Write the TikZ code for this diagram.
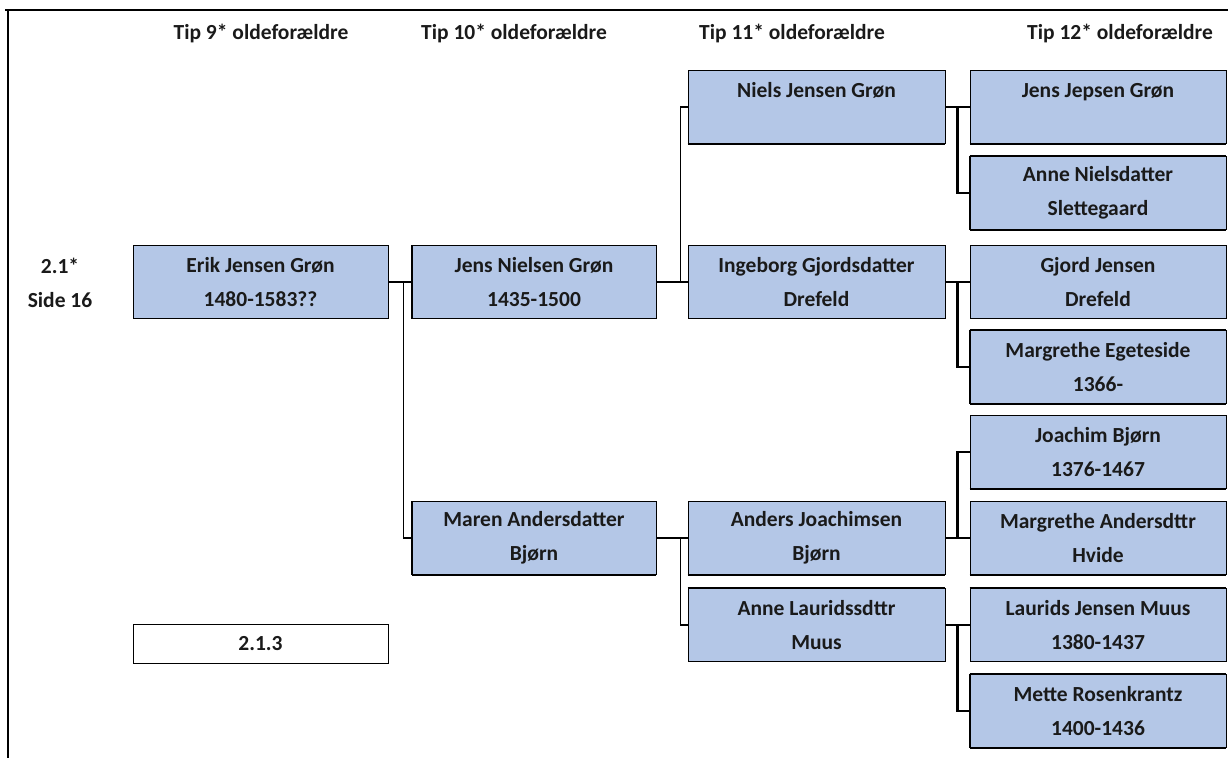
\documentclass[tikz,border=0pt]{standalone}
\usepackage{fontspec}
\setmainfont{Carlito}
\usetikzlibrary{calc}
\definecolor{cfill}{HTML}{B4C7E7}
\definecolor{ctext}{HTML}{1A1A1A}
\tikzset{
  every picture/.style={font=\bfseries\fontsize{21.5}{34}\selectfont, text=ctext},
  person/.style={draw=black, fill=cfill, line width=0.8pt, minimum width=#1, minimum height=73pt, align=center, inner sep=0pt},
  person/.default=256pt,
  ref/.style={draw=black, fill=white, line width=0.8pt, minimum width=255pt, minimum height=39pt, inner sep=0pt},
  header/.style={inner sep=0pt},
  thinline/.style={draw=black, line width=1.2pt},
  thickline/.style={draw=black, line width=2.6pt},
  edge/.style={draw=black, line width=2.2pt},
  frame/.style={draw=black, line width=2pt},
}
\begin{document}
\begin{tikzpicture}[x=1pt, y=-1pt]
  \useasboundingbox (0,0) rectangle (1228,758);
  \draw[frame] (5,10) -- (1228,10);
  \draw[frame] (8,10) -- (8,758);

  % column headings
  \node[header] (h9) at (261,33) {Tip 9* oldeforældre};
  \node[header] (h10) at (514,33) {Tip 10* oldeforældre};
  \node[header] (h11) at (792,33) {Tip 11* oldeforældre};
  \node[header] (h12) at (1120,33) {Tip 12* oldeforældre};
  \node[header, align=center] (side) at (60,283) {2.1*\\Side 16};

  % generations
  \node[person=255pt] (erik) at (260.5,282) {Erik Jensen Grøn\\1480-1583??};
  \node[ref] (ref) at (260.5,643.5) {2.1.3};

  \node[person=244pt] (jensn) at (534,282) {Jens Nielsen Grøn\\1435-1500};
  \node[person=244pt] (maren) at (534,538) {Maren Andersdatter\\Bjørn};

  \node[person=257pt] (niels) at (816.5,107) {Niels Jensen Grøn\\\mbox{}};
  \node[person=257pt] (ingeborg) at (816.5,282) {Ingeborg Gjordsdatter\\Drefeld};
  \node[person=257pt] (anders) at (816.5,538) {Anders Joachimsen\\Bjørn};
  \node[person=257pt] (annel) at (816.5,625) {Anne Lauridssdttr\\Muus};

  \node[person] (jensj) at (1098,107) {Jens Jepsen Grøn\\\mbox{}};
  \node[person] (annen) at (1098,193) {Anne Nielsdatter\\Slettegaard};
  \node[person] (gjord) at (1098,282) {Gjord Jensen\\Drefeld};
  \node[person] (margrethee) at (1098,367) {Margrethe Egeteside\\1366-};
  \node[person] (joachim) at (1098,452) {Joachim Bjørn\\1376-1467};
  \node[person] (margrethea) at (1098,538) {Margrethe Andersdttr\\Hvide};
  \node[person] (laurids) at (1098,625) {Laurids Jensen Muus\\1380-1437};
  \node[person] (mette) at (1098,711) {Mette Rosenkrantz\\1400-1436};

  % heavy cell borders
  \foreach \n in {niels, jensj, annen, margrethee, joachim, margrethea, anders, maren, mette}
    \draw[edge] (\n.south west) -- (\n.south east);
  \foreach \n in {jensn, maren, annen, margrethee, mette}
    \draw[edge] (\n.south west) -- (\n.north west);
  \foreach \n in {annen, margrethee, mette, annel, laurids}
    \draw[edge] (\n.north west) -- (\n.north east);

  % parent links
  \draw[thickline] (erik) -- (jensn);
  \draw[thinline] ($(erik.east)+(15,0)$) |- (maren.west);
  \draw[thickline] (jensn) -- (ingeborg);
  \draw[thinline] ($(jensn.east)+(24,0)$) |- (niels.west);
  \draw[thinline] (niels) -- (jensj);
  \draw[thickline] ($(niels.east)+(12,0)$) |- (annen.west);
  \draw[thickline] (ingeborg) -- (gjord);
  \draw[thickline] ($(ingeborg.east)+(12,0)$) |- (margrethee.west);
  \draw[thinline] (maren) -- (anders);
  \draw[thinline] ($(maren.east)+(24,0)$) |- (annel.west);
  \draw[thinline] (anders) -- (margrethea);
  \draw[thickline] ($(anders.east)+(12,0)$) |- (joachim.west);
  \draw[thinline] (annel) -- (laurids);
  \draw[thickline] ($(annel.east)+(12,0)$) |- (mette.west);
\end{tikzpicture}
\end{document}
